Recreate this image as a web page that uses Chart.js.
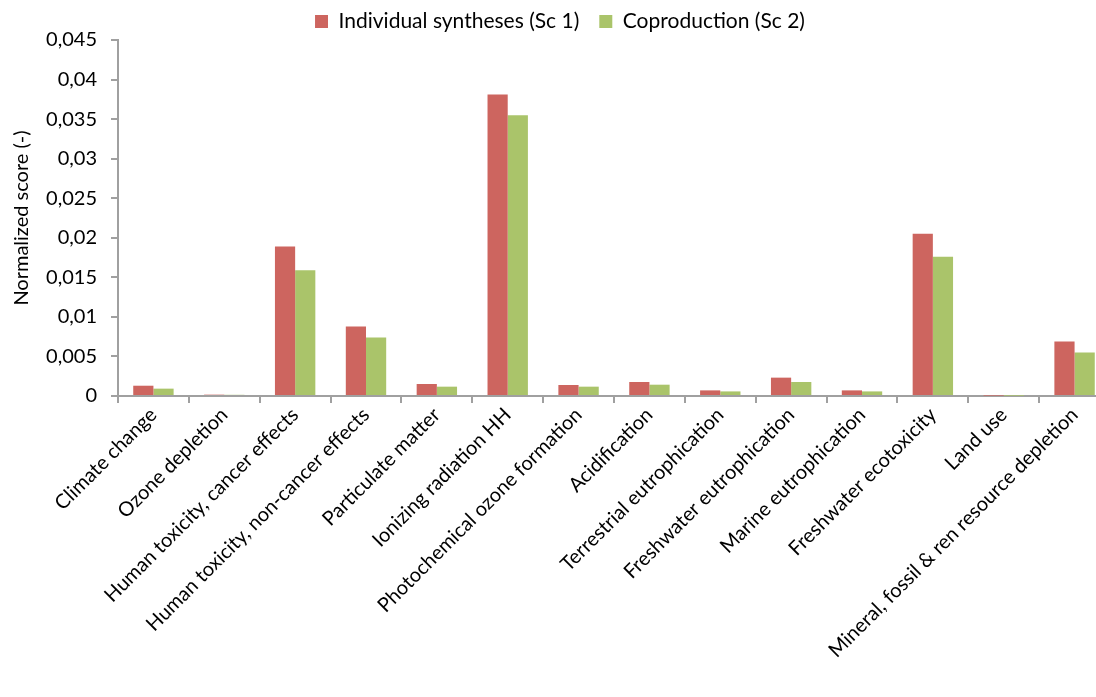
<!DOCTYPE html>
<html>
<head>
<meta charset="utf-8">
<script src="https://cdn.jsdelivr.net/npm/chart.js@4.4.1/dist/chart.umd.min.js"></script>
<style>
    html, body { margin: 0; padding: 0; background: #fff; overflow: hidden; }
    #wrap { width: 1110px; height: 697px; position: relative; }
</style>
</head>
<body>
<div id="wrap"><canvas id="chart"></canvas></div>
<script>
const categories = [
    "Climate change",
    "Ozone depletion",
    "Human toxicity, cancer effects",
    "Human toxicity, non-cancer effects",
    "Particulate matter",
    "Ionizing radiation HH",
    "Photochemical ozone formation",
    "Acidification",
    "Terrestrial eutrophication",
    "Freshwater eutrophication",
    "Marine eutrophication",
    "Freshwater ecotoxicity",
    "Land use",
    "Mineral, fossil & ren resource depletion",
];
const individualSc1 = [0.0013, 0.00017, 0.0189, 0.00878, 0.00152, 0.0381, 0.00139, 0.00177, 0.00071, 0.00232, 0.00071, 0.0205, 0.00005, 0.0069];
const coproductionSc2 = [0.00093, 0.00015, 0.0159, 0.0074, 0.00118, 0.0355, 0.00118, 0.00143, 0.00058, 0.00177, 0.00058, 0.0176, 0.00004, 0.0055];
const yTicks = { min: 0, max: 0.045, step: 0.005 };

const font = "Lato, 'Open Sans', 'Liberation Sans', sans-serif";
const axisGray = "#a0a0a0";

const formatTick = (value) => parseFloat(Number(value).toFixed(3)).toString().replace(".", ",");

new Chart(document.getElementById("chart"), {
    type: "bar",
    data: {
        labels: categories,
        datasets: [
            {
                label: "Individual syntheses (Sc 1)",
                data: individualSc1,
                backgroundColor: "#cd655f",
                borderWidth: 0,
            },
            {
                label: "Coproduction (Sc 2)",
                data: coproductionSc2,
                backgroundColor: "#aac46a",
                borderWidth: 0,
            },
        ],
    },
    options: {
        responsive: true,
        maintainAspectRatio: false,
        animation: false,
        // negative top padding lets the legend keep a wide item gap without pushing the plot down
        layout: { padding: { left: 10, right: 0, top: -9, bottom: 0 } },
        datasets: { bar: { categoryPercentage: 0.57, barPercentage: 1.0 } },
        plugins: {
            legend: {
                position: "top",
                align: "center",
                maxHeight: 49,
                labels: {
                    font: { family: font, size: 21 },
                    color: "#000",
                    boxWidth: 13,
                    boxHeight: 13,
                    padding: 20,
                },
            },
            tooltip: { enabled: false },
        },
        scales: {
            x: {
                grid: { display: true, drawOnChartArea: false, offset: true, color: axisGray, lineWidth: 2, tickLength: 7 },
                border: { color: axisGray, width: 2 },
                ticks: {
                    font: { family: font, size: 20 },
                    color: "#000",
                    maxRotation: 45,
                    minRotation: 45,
                    autoSkip: false,
                    padding: 0,
                },
                afterFit: (scale) => { scale.height = 301; },
            },
            y: {
                min: yTicks.min,
                max: yTicks.max,
                grid: { display: true, drawOnChartArea: false, color: axisGray, lineWidth: 2, tickLength: 7 },
                border: { color: axisGray, width: 2 },
                ticks: {
                    stepSize: yTicks.step,
                    font: { family: font, size: 20 },
                    color: "#000",
                    padding: 14,
                    callback: formatTick,
                },
                title: {
                    display: true,
                    text: "Normalized score (-)",
                    font: { family: font, size: 20 },
                    color: "#000",
                    padding: { top: 0, bottom: 4 },
                },
                afterFit: (scale) => { scale.width = 108; },
            },
        },
    },
});
</script>
</body>
</html>
